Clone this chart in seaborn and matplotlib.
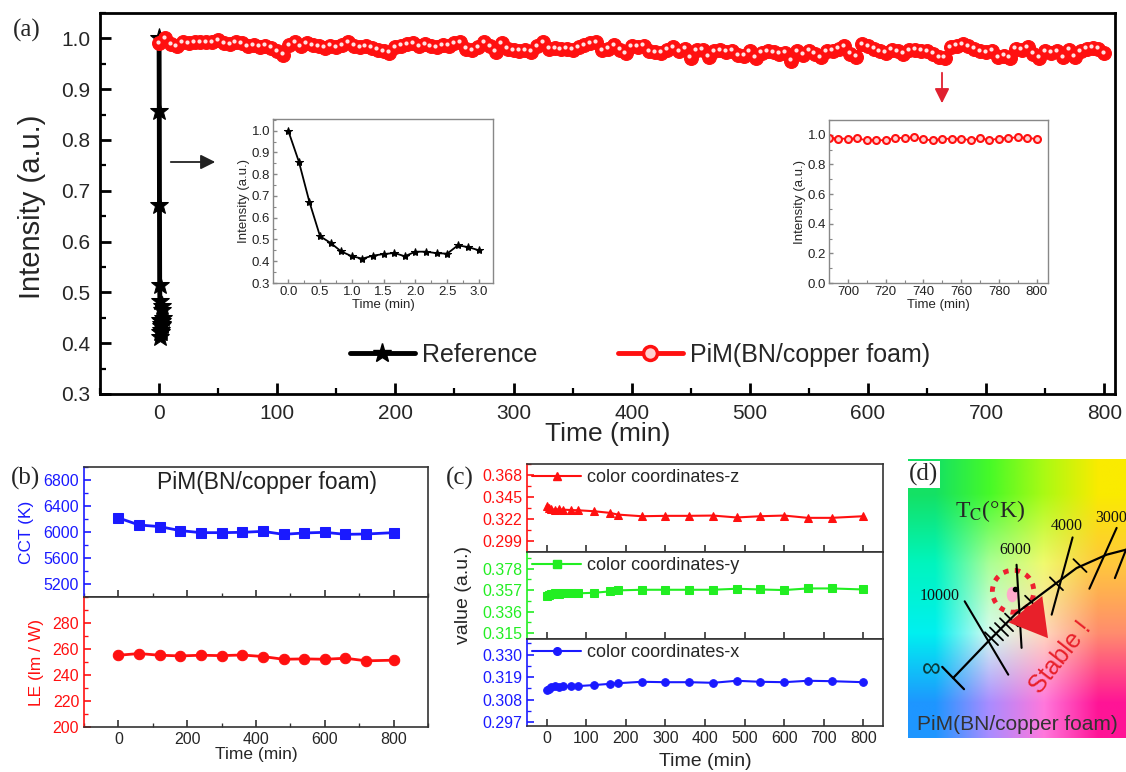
import numpy as np
import matplotlib
matplotlib.use('Agg')
import matplotlib.pyplot as plt
import matplotlib.transforms as mtransforms
from matplotlib.lines import Line2D
from matplotlib.patches import Ellipse
from matplotlib.ticker import MultipleLocator, FormatStrFormatter, FixedLocator
import seaborn as sns

# ---------------- data ----------------
# (a) normalised intensity vs time
ref_time = np.linspace(0, 3, 19)          # min, one point every 10 s
ref_intensity = [1.000, 0.858, 0.672, 0.515, 0.484, 0.445, 0.423, 0.412, 0.426, 0.433,
                 0.438, 0.423, 0.444, 0.444, 0.437, 0.435, 0.473, 0.465, 0.450]

pim_time = np.arange(0, 805, 5)           # min, one point every 5 min
pim_intensity = [
    0.990, 1.000, 0.988, 0.985, 0.992, 0.990, 0.993, 0.993, 0.993, 0.992,
    0.997, 0.990, 0.988, 0.993, 0.991, 0.985, 0.987, 0.984, 0.986, 0.982,
    0.975, 0.968, 0.987, 0.993, 0.985, 0.990, 0.987, 0.985, 0.982, 0.986,
    0.983, 0.987, 0.993, 0.986, 0.983, 0.985, 0.982, 0.978, 0.975, 0.972,
    0.983, 0.986, 0.988, 0.990, 0.985, 0.988, 0.985, 0.983, 0.987, 0.986,
    0.990, 0.993, 0.980, 0.977, 0.983, 0.993, 0.985, 0.974, 0.990, 0.980,
    0.977, 0.976, 0.977, 0.974, 0.985, 0.993, 0.980, 0.981, 0.979, 0.980,
    0.978, 0.983, 0.987, 0.990, 0.993, 0.977, 0.980, 0.987, 0.978, 0.971,
    0.985, 0.984, 0.986, 0.975, 0.973, 0.972, 0.978, 0.983, 0.975, 0.980,
    0.962, 0.977, 0.978, 0.964, 0.975, 0.977, 0.974, 0.976, 0.967, 0.966,
    0.975, 0.962, 0.972, 0.975, 0.973, 0.970, 0.972, 0.956, 0.975, 0.968,
    0.976, 0.970, 0.963, 0.975, 0.976, 0.980, 0.985, 0.970, 0.964, 0.988,
    0.985, 0.980, 0.975, 0.972, 0.978, 0.975, 0.970, 0.977, 0.978, 0.976,
    0.975, 0.970, 0.963, 0.962, 0.983, 0.986, 0.989, 0.985, 0.980, 0.975,
    0.973, 0.976, 0.963, 0.966, 0.962, 0.980, 0.978, 0.983, 0.970, 0.962,
    0.975, 0.972, 0.975, 0.963, 0.978, 0.964, 0.975, 0.980, 0.982, 0.980,
    0.971]

# (b) CCT and luminous efficacy
b_time = [0, 60, 120, 180, 240, 300, 360, 420, 480, 540, 600, 660, 720, 800]
cct = [6217, 6108, 6083, 6021, 5990, 5990, 5995, 6010, 5964, 5985, 5995, 5964, 5969, 5990]
le = [255.2, 256.5, 255.2, 254.7, 255.2, 254.9, 255.4, 254.2, 252.1, 252.4, 252.1, 252.9, 250.9, 251.4]

# (c) colour coordinates
c_time = [0, 5, 10, 20, 30, 40, 60, 80, 120, 160, 180, 240, 300, 360, 420, 480, 540, 600, 660, 720, 800]
coord_z = [0.3359, 0.3338, 0.3321, 0.3318, 0.3321, 0.3318, 0.3314, 0.3311, 0.3301, 0.3284, 0.3266,
           0.3249, 0.3253, 0.3253, 0.3256, 0.3236, 0.3249, 0.3256, 0.3232, 0.3232, 0.3249]
coord_y = [0.3512, 0.3522, 0.3531, 0.3538, 0.3531, 0.3538, 0.3538, 0.3538, 0.3544, 0.3557, 0.3567,
           0.3573, 0.3573, 0.3573, 0.3573, 0.3583, 0.3576, 0.3570, 0.3586, 0.3586, 0.3576]
coord_x = [0.3126, 0.3134, 0.3141, 0.3144, 0.3142, 0.3144, 0.3146, 0.3146, 0.3151, 0.3157, 0.3160,
           0.3167, 0.3165, 0.3165, 0.3162, 0.3172, 0.3167, 0.3165, 0.3172, 0.3170, 0.3165]

# (d) schematic chromaticity sketch (axes fraction units)
locus_u = [0.207, 0.375, 0.498, 0.620, 0.773, 0.911, 1.0]
locus_v = [0.215, 0.352, 0.448, 0.520, 0.609, 0.657, 0.675]
isotherms = {'10000': [(0.260, 0.490), (0.460, 0.227)],
             '6000': [(0.498, 0.621), (0.521, 0.323)],
             '4000': [(0.755, 0.719), (0.659, 0.442)],
             '3000': [(0.957, 0.753), (0.832, 0.535)],
             '': [(1.0, 0.675), (0.949, 0.573)]}
hash_u = [0.383, 0.406, 0.429, 0.452, 0.475, 0.567, 0.681, 0.789]
hash_v = [0.356, 0.373, 0.389, 0.406, 0.423, 0.487, 0.553, 0.618]
cie_bg = [[(20, 225, 100), (70, 250, 40), (170, 250, 20), (250, 235, 0)],
          [(0, 245, 190), (170, 255, 150), (240, 250, 110), (255, 200, 60)],
          [(0, 240, 240), (215, 252, 240), (255, 215, 190), (255, 140, 110)],
          [(30, 150, 255), (170, 140, 255), (255, 120, 220), (255, 20, 150)]]

RED = '#ff1010'
BLUE = '#1a1aff'
GREEN = '#22ee22'
FRAME = '#333333'

# ---------------- style ----------------
sns.set_style('ticks', {'xtick.direction': 'in', 'ytick.direction': 'in'})
plt.rcParams['font.family'] = ['Liberation Sans', 'DejaVu Sans']
plt.rcParams['mathtext.fontset'] = 'stix'

W, H = 1126, 772
fig = plt.figure(figsize=(W / 100, H / 100), dpi=100)


def box(x0, y0, x1, y1):
    """Axes rectangle from pixel corners (top-left origin)."""
    return [x0 / W, 1 - y1 / H, (x1 - x0) / W, (y1 - y0) / H]


def ftext(x, y, s, **kw):
    fig.text(x / W, 1 - y / H, s, ha='center', va='center', **kw)


def style_axes(ax, color=FRAME, lw=1.2, size=11.5, major=5, minor=3):
    for sp in ax.spines.values():
        sp.set_visible(True)
        sp.set_color(color)
        sp.set_linewidth(lw)
    ax.tick_params(which='major', direction='in', length=major, width=lw, labelsize=size,
                   color=color, top=False, right=False)
    ax.tick_params(which='minor', direction='in', length=minor, width=lw * 0.8,
                   color=color, top=False, right=False)
    ax.set_xlabel('')
    ax.set_ylabel('')


SERIF = ['Liberation Serif', 'DejaVu Serif']

# ---------------- panel (a) ----------------
ax_a = fig.add_axes(box(100, 13, 1115, 394))
sns.lineplot(x=ref_time, y=ref_intensity, ax=ax_a, color='black', linewidth=3.5,
             marker='*', markersize=14, markeredgecolor='black', legend=False)
sns.lineplot(x=pim_time, y=pim_intensity, ax=ax_a, color=RED, linewidth=3,
             marker='o', markersize=10, markeredgecolor=RED, legend=False)
shine = mtransforms.offset_copy(ax_a.transData, fig=fig, x=-1.0, y=1.0, units='points')
ax_a.plot(pim_time, pim_intensity, ls='none', marker='o', ms=3, color='#ffe2e2',
          mec='none', transform=shine)
ax_a.set_xlim(-50, 809)
ax_a.set_ylim(0.3, 1.05)
ax_a.xaxis.set_major_locator(MultipleLocator(100))
ax_a.xaxis.set_minor_locator(MultipleLocator(50))
ax_a.yaxis.set_major_locator(MultipleLocator(0.1))
ax_a.yaxis.set_minor_locator(MultipleLocator(0.05))
ax_a.yaxis.set_major_formatter(FormatStrFormatter('%.1f'))
style_axes(ax_a, color='black', lw=2, size=15, major=8, minor=4)
ax_a.tick_params(axis='both', which='major', pad=7)

handles = [Line2D([], [], color='black', lw=3.5, marker='*', ms=14),
           Line2D([], [], color=RED, lw=3.5, marker='o', ms=10, mfc='#ffd0d0', mec=RED, mew=2.5)]
fig.legend(handles, ['Reference', 'PiM(BN/copper foam)'], loc='center',
           bbox_to_anchor=(640 / W, 1 - 355 / H), ncol=2, frameon=False, fontsize=18,
           handlelength=2.6, columnspacing=3.2, handletextpad=0.3)
ftext(27, 30, '(a)', fontsize=18, family=SERIF)
ftext(32, 207, 'Intensity (a.u.)', fontsize=21, rotation=90)
ftext(608, 434, 'Time (min)', fontsize=19)

ax_a.annotate('', xy=(218 / W, 1 - 162 / H), xytext=(168 / W, 1 - 162 / H),
              xycoords='figure fraction', textcoords='figure fraction',
              arrowprops=dict(arrowstyle='-|>', color='#222222', lw=1.3, mutation_scale=22))
ax_a.annotate('', xy=(942 / W, 1 - 106 / H), xytext=(942 / W, 1 - 70 / H),
              xycoords='figure fraction', textcoords='figure fraction',
              arrowprops=dict(arrowstyle='-|>', color='#e0202f', lw=1.3, mutation_scale=22))

# inset: reference, first 3 minutes
ax_i1 = fig.add_axes(box(273, 119, 493, 283))
sns.lineplot(x=ref_time, y=ref_intensity, ax=ax_i1, color='black', linewidth=1.3,
             marker='*', markersize=6, markeredgecolor='black', legend=False)
ax_i1.set_xlim(-0.24, 3.22)
ax_i1.set_ylim(0.3, 1.054)
ax_i1.xaxis.set_major_locator(MultipleLocator(0.5))
ax_i1.xaxis.set_minor_locator(MultipleLocator(0.25))
ax_i1.yaxis.set_major_locator(MultipleLocator(0.1))
ax_i1.yaxis.set_minor_locator(MultipleLocator(0.05))
ax_i1.xaxis.set_major_formatter(FormatStrFormatter('%.1f'))
ax_i1.yaxis.set_major_formatter(FormatStrFormatter('%.1f'))
style_axes(ax_i1, color='#888888', lw=1, size=9.5, major=3, minor=2)
ax_i1.tick_params(labelcolor='#222222', pad=2)
ax_i1.set_xlabel('Time (min)', fontsize=9.5, labelpad=1)
ax_i1.set_ylabel('Intensity (a.u.)', fontsize=9.5, labelpad=1)

# inset: PiM, last part of the run
tail = pim_time >= 690
ax_i2 = fig.add_axes(box(829, 120, 1048, 283))
sns.lineplot(x=pim_time[tail], y=np.array(pim_intensity)[tail], ax=ax_i2, color=RED,
             linewidth=1.3, marker='o', markersize=5, markerfacecolor='#ffd0d0',
             markeredgecolor=RED, markeredgewidth=1.5, legend=False)
ax_i2.set_xlim(690, 806)
ax_i2.set_ylim(0, 1.1)
ax_i2.xaxis.set_major_locator(MultipleLocator(20))
ax_i2.xaxis.set_minor_locator(MultipleLocator(10))
ax_i2.yaxis.set_major_locator(MultipleLocator(0.2))
ax_i2.yaxis.set_minor_locator(MultipleLocator(0.1))
ax_i2.yaxis.set_major_formatter(FormatStrFormatter('%.1f'))
style_axes(ax_i2, color='#888888', lw=1, size=9.5, major=3, minor=2)
ax_i2.tick_params(labelcolor='#222222', pad=2)
ax_i2.set_xlabel('Time (min)', fontsize=9.5, labelpad=1)
ax_i2.set_ylabel('Intensity (a.u.)', fontsize=9.5, labelpad=1)

# ---------------- panel (b) ----------------
ax_b1 = fig.add_axes(box(84, 467, 428, 597))
ax_b2 = fig.add_axes(box(84, 597, 428, 727))
sns.lineplot(x=b_time, y=cct, ax=ax_b1, color=BLUE, linewidth=2, marker='s',
             markersize=7, markeredgecolor=BLUE, legend=False)
sns.lineplot(x=b_time, y=le, ax=ax_b2, color=RED, linewidth=2, marker='o',
             markersize=7.5, markeredgecolor=RED, legend=False)
for ax in (ax_b1, ax_b2):
    ax.set_xlim(-100, 900)
    ax.xaxis.set_major_locator(MultipleLocator(200))
    ax.xaxis.set_minor_locator(MultipleLocator(100))
    style_axes(ax, size=11.5)
ax_b1.set_ylim(5000, 7000)
ax_b1.yaxis.set_major_locator(FixedLocator([5200, 5600, 6000, 6400, 6800]))
ax_b1.yaxis.set_minor_locator(MultipleLocator(200))
ax_b1.tick_params(axis='x', labelbottom=False)
ax_b1.tick_params(axis='y', which='both', colors=BLUE)
ax_b1.spines['left'].set_color(BLUE)
ax_b2.set_ylim(200, 300)
ax_b2.yaxis.set_major_locator(FixedLocator([200, 220, 240, 260, 280]))
ax_b2.yaxis.set_minor_locator(MultipleLocator(10))
ax_b2.tick_params(axis='y', which='both', colors=RED)
ax_b2.spines['left'].set_color(RED)
ftext(25, 478, '(b)', fontsize=18, family=SERIF)
ftext(267, 483, 'PiM(BN/copper foam)', fontsize=16.5, color='#222222')
ftext(27, 532, 'CCT (K)', fontsize=12.5, rotation=90, color=BLUE)
ftext(36, 662, 'LE (lm / W)', fontsize=12.5, rotation=90, color=RED)
ftext(256, 754, 'Time (min)', fontsize=12.5)

# ---------------- panel (c) ----------------
c_rows = [
    (464, 552, coord_z, RED, '^', 'color coordinates-z', (0.2875, 0.3795), [0.299, 0.322, 0.345, 0.368]),
    (552, 639, coord_y, GREEN, 's', 'color coordinates-y', (0.3092, 0.3942), [0.315, 0.336, 0.357, 0.378]),
    (639, 726, coord_x, BLUE, 'o', 'color coordinates-x', (0.2950, 0.3377), [0.297, 0.308, 0.319, 0.330]),
]
for i, (y0, y1, vals, col, mk, name, ylim, yt) in enumerate(c_rows):
    ax = fig.add_axes(box(527, y0, 883, y1))
    sns.lineplot(x=c_time, y=vals, ax=ax, color=col, linewidth=1.5, marker=mk,
                 markersize=5.5, markeredgecolor=col, legend=False)
    ax.set_xlim(-50, 850)
    ax.set_ylim(*ylim)
    ax.xaxis.set_major_locator(MultipleLocator(100))
    ax.yaxis.set_major_locator(FixedLocator(yt))
    step = yt[1] - yt[0]
    ax.yaxis.set_minor_locator(FixedLocator([v + step / 2 for v in [yt[0] - step] + yt]))
    ax.yaxis.set_major_formatter(FormatStrFormatter('%.3f'))
    style_axes(ax, size=11.5)
    ax.tick_params(axis='y', which='both', colors=col)
    ax.spines['left'].set_color(col)
    if i < 2:
        ax.tick_params(axis='x', labelbottom=False)
    ax.legend([Line2D([], [], color=col, lw=1.5, marker=mk, ms=5.5)], [name],
              loc='upper left', frameon=False, fontsize=13, handlelength=2.7,
              handletextpad=0.35, borderaxespad=0.1, borderpad=0.2)
ftext(460, 478, '(c)', fontsize=18, family=SERIF)
ftext(463, 595, 'value (a.u.)', fontsize=14, rotation=90)
ftext(705, 762, 'Time (min)', fontsize=14)

# ---------------- panel (d) ----------------
ax_d = fig.add_axes(box(908, 459, 1126, 738))
ax_d.imshow(np.array(cie_bg) / 255, extent=[0, 1, 0, 1], origin='upper',
            interpolation='bilinear', aspect='auto')
ax_d.set_xlim(0, 1)
ax_d.set_ylim(0, 1)
ax_d.axis('off')
ax_d.plot(locus_u, locus_v, color='black', lw=1.6)
cap_du, cap_dv = 0.05, 0.04
ax_d.plot([locus_u[0] - cap_du, locus_u[0] + cap_du], [locus_v[0] + cap_dv, locus_v[0] - cap_dv],
          color='black', lw=1.6)
for lab, ((u0, v0), (u1, v1)) in isotherms.items():
    ax_d.plot([u0, u1], [v0, v1], color='black', lw=1.5)
for u, v in zip(hash_u, hash_v):
    ax_d.plot([u - 0.03, u + 0.03], [v + 0.023, v - 0.023], color='black', lw=1.3)
ax_d.add_patch(Ellipse((0.482, 0.526), 0.19, 0.15, fill=False, ec='#ee2030', lw=3.5,
                       ls=(0, (1.1, 1.3))))
ax_d.add_patch(Ellipse((0.478, 0.514), 0.05, 0.055, color='#ffaacc', ec='none'))
ax_d.plot([0.49], [0.534], marker='o', ms=3, color='black')
ax_d.annotate('', xy=(0.65, 0.35), xytext=(0.53, 0.47),
              arrowprops=dict(arrowstyle='simple,head_width=1.4,head_length=1.2,tail_width=0.35',
                              color='#e8202a', mutation_scale=22, lw=0))
ax_d.text(0.70, 0.29, 'Stable !', color='#e8202a', fontsize=18, rotation=52,
          ha='center', va='center')
ax_d.text(0.375, 0.812, r'T$_\mathrm{C}$(°K)', fontsize=17, family=SERIF, ha='center', va='center')
for lab, x, y in [('10000', 0.145, 0.508), ('6000', 0.49, 0.675), ('4000', 0.727, 0.759),
                  ('3000', 0.93, 0.789)]:
    ax_d.text(x, y, lab, fontsize=11.5, family=SERIF, ha='center', va='center', color='#111111')
ax_d.text(0.107, 0.245, '∞', fontsize=19, ha='center', va='center', color='#0b3b3b')
ax_d.text(0.5, 0.048, 'PiM(BN/copper foam)', fontsize=15, ha='center', va='center', color='#333333')
ax_d.text(0.005, 0.985, '(d)', fontsize=18, family=SERIF, ha='left', va='top',
          bbox=dict(facecolor='white', edgecolor='none', pad=1.5))

fig.savefig('out.png', dpi=100)
